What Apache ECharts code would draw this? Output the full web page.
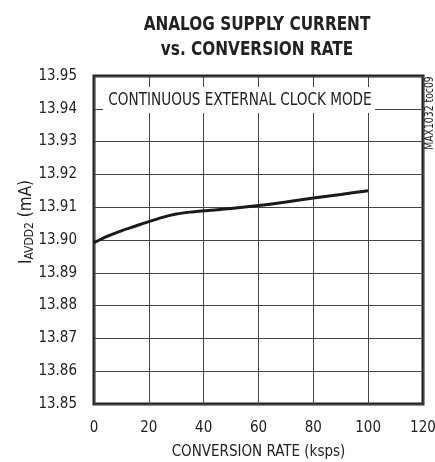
<!DOCTYPE html>
<html>
<head>
<meta charset="utf-8">
<script src="https://cdn.jsdelivr.net/npm/echarts@6/dist/echarts.min.js"></script>
<style>
  html, body { margin: 0; padding: 0; background: #fff; }
  #chart { width: 435px; height: 462px; }
</style>
</head>
<body>
<div id="chart"></div>
<script>
const FONT = "'Liberation Sans Narrow', 'DejaVu Sans Condensed', sans-serif";

const titleLines = ["ANALOG SUPPLY CURRENT", "vs. CONVERSION RATE"];
const conversionRate = [0, 5, 10, 15, 20, 25, 30, 35, 40, 50, 60, 70, 80, 90, 100];
const supplyCurrent = [13.8992, 13.9012, 13.9028, 13.9042, 13.9056, 13.9069, 13.9079, 13.9085,
  13.9089, 13.9096, 13.9105, 13.9116, 13.9128, 13.9139, 13.9150];
const xTicks = [0, 20, 40, 60, 80, 100, 120];
const yTicks = [13.85, 13.86, 13.87, 13.88, 13.89, 13.90, 13.91, 13.92, 13.93, 13.94, 13.95];
const noteText = "CONTINUOUS EXTERNAL CLOCK MODE";
const docId = "MAX1032 toc09";

let myChart = echarts.init(document.getElementById("chart"));

let points = conversionRate.map((x, i) => [x, supplyCurrent[i]]);

// condensed text helper, the narrow font is not always there
function narrowText(text, x, y, size, opts) {
  return Object.assign({
    type: "text",
    z: 11,
    x: x,
    y: y,
    scaleX: 0.85,
    style: {
      text: text,
      fontFamily: FONT,
      fontSize: size,
      fill: "#222",
      align: "center",
      verticalAlign: "middle",
    },
  }, opts || {});
}

let option = {
  animation: false,
  backgroundColor: "#fff",
  grid: {
    left: 94,
    right: 12,
    top: 76,
    bottom: 58,
    outerBoundsMode: "none",
    show: true,
    borderColor: "#222",
    borderWidth: 3,
  },
  xAxis: {
    type: "value",
    min: xTicks[0],
    max: xTicks[xTicks.length - 1],
    interval: 20,
    name: "CONVERSION RATE (ksps)",
    nameLocation: "middle",
    nameGap: 41,
    nameMoveOverlap: false,
    nameTextStyle: { fontFamily: FONT, fontSize: 15, color: "#222" },
    axisLine: { show: false },
    axisTick: { show: false },
    axisLabel: { fontFamily: FONT, fontSize: 15, color: "#222", margin: 17 },
    splitLine: { show: true, lineStyle: { color: "#444", width: 1 } },
  },
  yAxis: {
    type: "value",
    min: yTicks[0],
    max: yTicks[yTicks.length - 1],
    interval: 0.01,
    name: "{i|I}{s|AVDD2}{n| (mA)}",
    nameLocation: "middle",
    nameRotate: 90,
    nameGap: 58,
    nameMoveOverlap: false,
    nameTextStyle: {
      padding: [0, 0, 0, 36],
      rich: {
        i: { fontFamily: FONT, fontSize: 17, color: "#222" },
        s: { fontFamily: FONT, fontSize: 12, color: "#222", padding: [6, 0, 0, 0] },
        n: { fontFamily: FONT, fontSize: 17, color: "#222" },
      },
    },
    axisLine: { show: false },
    axisTick: { show: false },
    axisLabel: {
      fontFamily: FONT,
      fontSize: 15,
      color: "#222",
      margin: 17,
      formatter: (v) => v.toFixed(2),
    },
    splitLine: { show: true, lineStyle: { color: "#444", width: 1 } },
  },
  graphic: [
    narrowText(titleLines[0], 257, 25, 20, { style: {
      text: titleLines[0], fontFamily: FONT, fontSize: 20, fontWeight: "bold",
      fill: "#222", align: "center", verticalAlign: "middle" } }),
    narrowText(titleLines[1], 257, 50, 20, { style: {
      text: titleLines[1], fontFamily: FONT, fontSize: 20, fontWeight: "bold",
      fill: "#222", align: "center", verticalAlign: "middle" } }),
    {
      type: "rect",
      z: 10,
      shape: { x: 103, y: 87, width: 272, height: 26 },
      style: { fill: "#fff" },
    },
    narrowText(noteText, 240, 100, 18, { scaleX: 0.84 }),
    narrowText(docId, 430, 113, 12, { rotation: Math.PI / 2, scaleX: 0.86 }),
  ],
  series: [
    {
      type: "line",
      data: points,
      smooth: 0.3,
      symbol: "none",
      lineStyle: { color: "#1a1a1a", width: 3 },
      z: 5,
    },
  ],
};
option && myChart.setOption(option);
</script>
</body>
</html>
